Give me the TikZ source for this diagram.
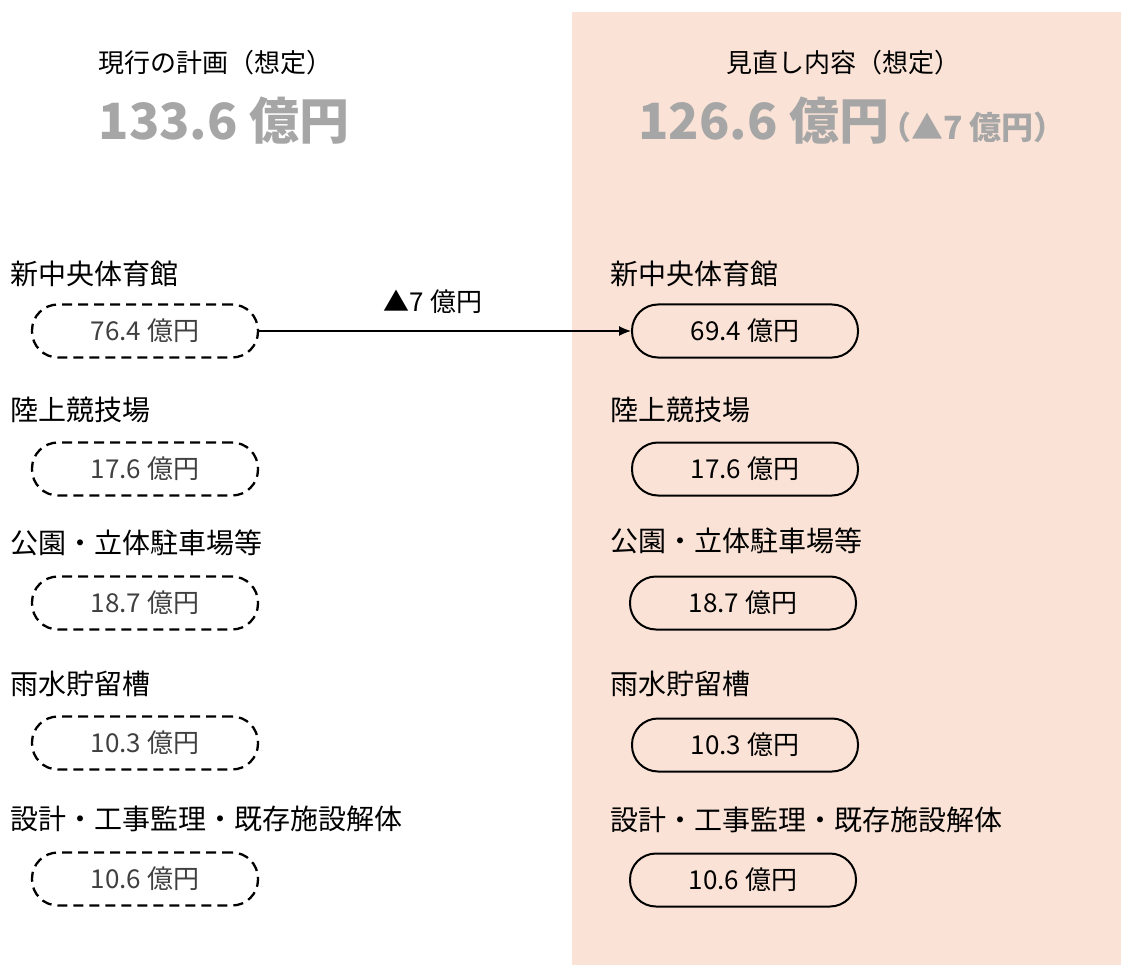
\documentclass[tikz,border=0pt]{standalone}
\usepackage{fontspec}
\setmainfont{Noto Sans CJK JP}
\definecolor{bgpeach}{HTML}{FAE3D6}
\definecolor{biggray}{HTML}{A6A6A6}
\definecolor{oldtext}{HTML}{404040}
\usetikzlibrary{arrows.meta}
\tikzset{
  pill/.style={draw=black, line width=2pt, rounded corners=26pt, minimum width=226pt, minimum height=53pt, inner sep=0pt, font=\fontsize{26}{30}\selectfont},
  oldpill/.style={pill, line width=2.3pt, dash pattern=on 10pt off 6pt, text=oldtext},
  newpill/.style={pill, fill=bgpeach},
  itemlabel/.style={anchor=west, inner sep=0pt, font=\fontsize{28}{32}\selectfont},
  headlabel/.style={inner sep=0pt, font=\fontsize{26}{30}\selectfont},
  bigsum/.style={inner sep=0pt, text=biggray, font=\fontsize{50}{56}\selectfont\bfseries},
  flow/.style={-{Latex[length=12pt,width=10pt]}, line width=1.2pt}
}
\begin{document}
\begin{tikzpicture}[x=1pt,y=-1pt]
\useasboundingbox (0,0) rectangle (1121,965);
\fill[bgpeach] (572,12) rectangle (1121,965);

% headers
\node[headlabel] (h1) at (215,63) {現行の計画（想定）};
\node[bigsum] (s1) at (224,121) {133.6 億円};
\node[headlabel] (h2) at (843,63) {見直し内容（想定）};
\node[bigsum, anchor=west] (s2) at (638,121) {126.6 億円\hspace{-10pt}{\fontsize{32}{36}\selectfont （▲7 億円）}};

% left column
\node[itemlabel] (l1) at (10,274) {新中央体育館};
\node[oldpill] (a1) at (145,331) {76.4 億円};
\node[itemlabel] (l2) at (10,410) {陸上競技場};
\node[oldpill] (a2) at (145,469) {17.6 億円};
\node[itemlabel] (l3) at (10,543) {公園・立体駐車場等};
\node[oldpill] (a3) at (145,603) {18.7 億円};
\node[itemlabel] (l4) at (10,684) {雨水貯留槽};
\node[oldpill] (a4) at (145,743) {10.3 億円};
\node[itemlabel] (l5) at (10,819) {設計・工事監理・既存施設解体};
\node[oldpill] (a5) at (145,879) {10.6 億円};

% right column
\node[itemlabel] (r1) at (610,274) {新中央体育館};
\node[newpill] (b1) at (745,331) {69.4 億円};
\node[itemlabel] (r2) at (610,410) {陸上競技場};
\node[newpill] (b2) at (745,469) {17.6 億円};
\node[itemlabel] (r3) at (610,541) {公園・立体駐車場等};
\node[newpill] (b3) at (743,603) {18.7 億円};
\node[itemlabel] (r4) at (610,684) {雨水貯留槽};
\node[newpill] (b4) at (745,745) {10.3 億円};
\node[itemlabel] (r5) at (610,820) {設計・工事監理・既存施設解体};
\node[newpill] (b5) at (743,880) {10.6 億円};

% arrow
\draw[flow] (a1.east) -- (b1.west);
\node[headlabel] (d1) at (433,302) {▲7 億円};
\end{tikzpicture}
\end{document}
